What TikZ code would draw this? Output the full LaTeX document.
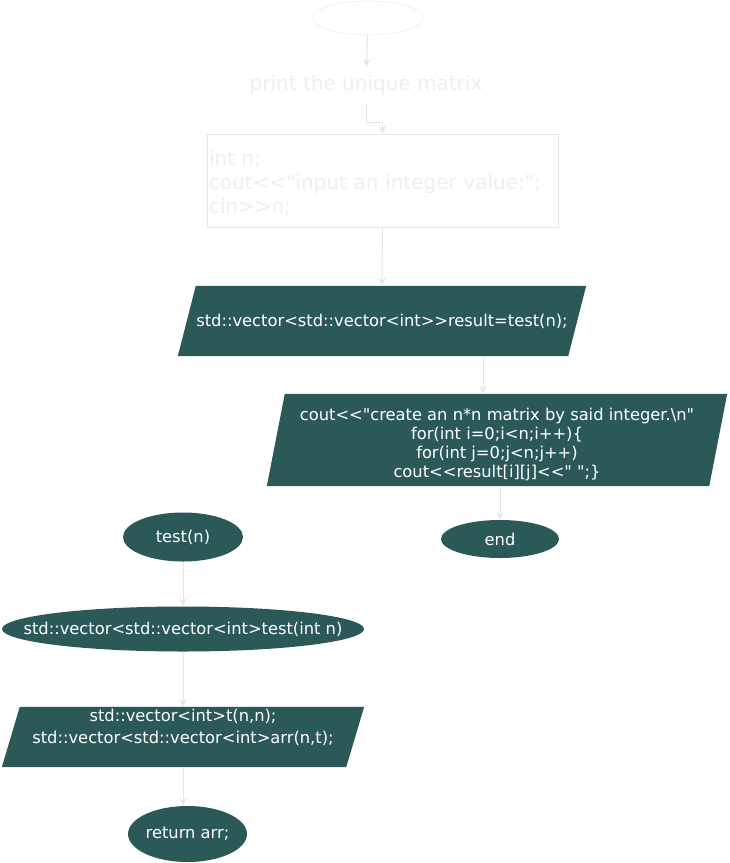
\documentclass[tikz,border=0pt]{standalone}
\usepackage{fontspec}
\newfontfamily\flowfont{DejaVu Sans}
\usepackage{tikz}
\usetikzlibrary{positioning}
\usetikzlibrary{arrows.meta}
\usetikzlibrary{shapes.geometric,calc,backgrounds}
\definecolor{flowteal}{HTML}{2B5957}
\definecolor{paleline}{HTML}{E6E6E6}
\definecolor{paletext}{HTML}{EEEEEE}
\tikzset{term node/.style={ellipse,fill=flowteal,text=white,inner sep=0pt,font=\flowfont\fontsize{16.3}{19}\selectfont},
	io node/.style={rectangle,text=white,inner sep=0pt,align=center,font=\flowfont\fontsize{16.3}{19}\selectfont},
	pale node/.style={draw=paleline,text=paletext,font=\flowfont\fontsize{20}{24}\selectfont},
	flow/.style={->,draw=paleline,line width=1pt},}

\begin{document}
\begin{tikzpicture}[x=1pt, y=-1pt, >={Stealth[length=8pt,width=7pt]}]
		\useasboundingbox (0,0) rectangle (730,863);
		% main program
		\node[pale node, ellipse, minimum width=110pt, minimum height=34pt] (start) at (368,18) {};
		\node[pale node, draw=none, minimum height=36pt, inner sep=0pt] (title) at (366,85) {print the unique matrix};
		\node[pale node, minimum width=351pt, minimum height=93pt, text width=347pt, align=left, inner sep=2pt] (code) at (382.5,180.5) {\rule{0pt}{21pt}int n;\\cout<<"input an integer value:";\\cin>>n;};
		\node[io node, minimum width=390pt, minimum height=70pt] (p1) at (382,321) {std::vector<std::vector<int>>result=test(n);};
		\node[io node, minimum width=442pt, minimum height=92pt] (p2) at (497,440) {\rule{0pt}{22pt}cout<<"create an n*n matrix by said integer.\textbackslash n"\\for(int i=0;i<n;i++)\{\\for(int j=0;j<n;j++)\\cout<<result[i][j]<<" ";\}};
		\node[term node, minimum width=118pt, minimum height=38pt] (stop) at (500,539) {end};
		% function test
		\node[term node, minimum width=120pt, minimum height=49pt] (test) at (183,537) {test(n)};
		\node[term node, minimum width=362pt, minimum height=45pt] (decl) at (183,629) {\makebox[0pt]{std::vector<std::vector<int>test(int n)}};
		\node[io node, minimum width=344pt, minimum height=60pt, font=\flowfont\fontsize{16.3}{22}\selectfont] (alloc) at (183,737) {std::vector<int>t(n,n);\\std::vector<std::vector<int>arr(n,t);\rule[-22pt]{0pt}{22pt}};
		\node[term node, minimum width=119pt, minimum height=56pt] (ret) at (187.5,834) {return arr;};

		% slanted input/output boxes
		\begin{scope}[on background layer]
			\foreach \n in {p1,p2,alloc}
				\fill[flowteal] ([xshift=9pt]\n.north west) -- ([xshift=9pt]\n.north east) -- ([xshift=-9pt]\n.south east) -- ([xshift=-9pt]\n.south west) -- cycle;
		\end{scope}

		\draw[flow] (start) -- (title);
		\draw[flow] (title.south) |- ([yshift=11pt]code.north) -- (code.north);
		\draw[flow] (code) -- (p1);
		\draw[flow] ([xshift=101pt]p1.south) -- ([xshift=-14pt]p2.north);
		\draw[flow] (p2.south -| stop.north) -- (stop.north);
		\draw[flow] (test) -- (decl);
		\draw[flow] (decl) -- (alloc);
		\draw[flow] (alloc.south) -- (alloc.south |- ret.north);
	\end{tikzpicture}
\end{document}
